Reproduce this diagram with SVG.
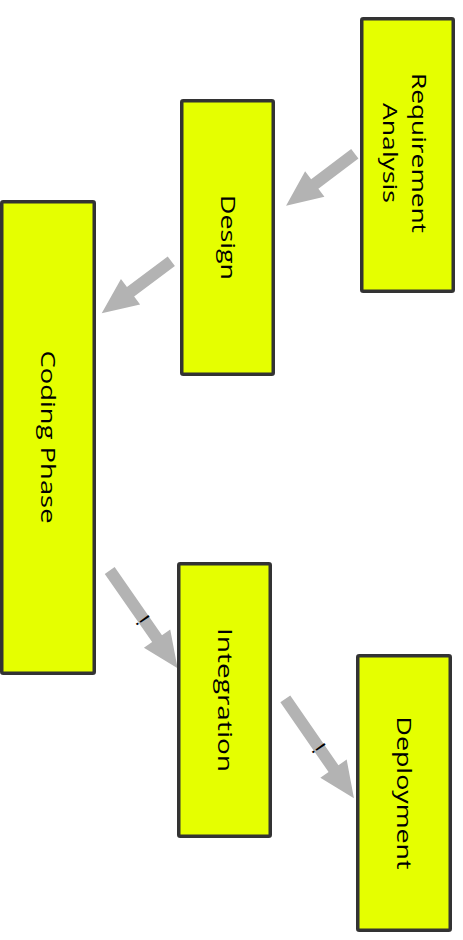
<svg xmlns="http://www.w3.org/2000/svg" width="463" height="940" viewBox="0 0 463 940">
  <style>
    .box { fill: #e5ff00; stroke: #333333; stroke-width: 3.5; }
    .lbl { font-family: "Open Sans", "Liberation Sans", Arial, sans-serif; font-size: 20px; font-weight: 500; fill: #000000; text-anchor: middle; }
    .arrow { fill: #b3b3b3; stroke: none; }
    .mark { font-family: "Liberation Sans", Arial, sans-serif; font-size: 22px; fill: #000000; text-anchor: middle; }
  </style>
  <rect width="463" height="940" fill="#ffffff"/>

  <!-- connectors: block arrows drawn along +x, then placed and rotated -->
  <g id="connectors">
    <g transform="translate(354.8,153.7) rotate(142.9)">
      <polygon class="arrow" points="0,-6 50.2,-6 50.2,-16 86.2,0 50.2,16 50.2,6 0,6"/>
    </g>
    <g transform="translate(171.3,261.2) rotate(143.2)">
      <polygon class="arrow" points="0,-6 50.9,-6 50.9,-16 86.9,0 50.9,16 50.9,6 0,6"/>
    </g>
    <g transform="translate(109.7,570.5) rotate(55.2)">
      <polygon class="arrow" points="0,-6 83,-6 83,-16 119,0 83,16 83,6 0,6"/>
    </g>
    <text class="mark" transform="translate(143,620) rotate(55)" x="0" y="8">!</text>
    <g transform="translate(285.3,698.8) rotate(55.4)">
      <polygon class="arrow" points="0,-6 84.9,-6 84.9,-16 120.9,0 84.9,16 84.9,6 0,6"/>
    </g>
    <text class="mark" transform="translate(319,748) rotate(55)" x="0" y="8">!</text>
  </g>

  <!-- process steps, labels rotated to read top-down -->
  <g id="requirement-analysis">
    <rect class="box" x="361.75" y="18.75" width="91.5" height="272.5" rx="1.5"/>
    <g transform="translate(407.5,153) rotate(90)">
      <text class="lbl" x="0" y="-4.5" textLength="160" lengthAdjust="spacingAndGlyphs">Requirement</text>
      <text class="lbl" x="0" y="24.5" textLength="100" lengthAdjust="spacingAndGlyphs">Analysis</text>
    </g>
  </g>

  <g id="design">
    <rect class="box" x="181.75" y="100.75" width="91.5" height="273.5" rx="1.5"/>
    <text class="lbl" transform="translate(227.5,237.5) rotate(90)" x="0" y="7" textLength="85" lengthAdjust="spacingAndGlyphs">Design</text>
  </g>

  <g id="coding-phase">
    <rect class="box" x="1.75" y="201.75" width="92.5" height="471.5" rx="1.5"/>
    <text class="lbl" transform="translate(47.5,437) rotate(90)" x="0" y="7" textLength="173" lengthAdjust="spacingAndGlyphs">Coding Phase</text>
  </g>

  <g id="integration">
    <rect class="box" x="178.75" y="563.75" width="91.5" height="272.5" rx="1.5"/>
    <text class="lbl" transform="translate(224.5,700) rotate(90)" x="0" y="7" textLength="144" lengthAdjust="spacingAndGlyphs">Integration</text>
  </g>

  <g id="deployment">
    <rect class="box" x="357.75" y="655.75" width="92.5" height="274.5" rx="1.5"/>
    <text class="lbl" transform="translate(404,793) rotate(90)" x="0" y="7" textLength="153" lengthAdjust="spacingAndGlyphs">Deployment</text>
  </g>
</svg>
